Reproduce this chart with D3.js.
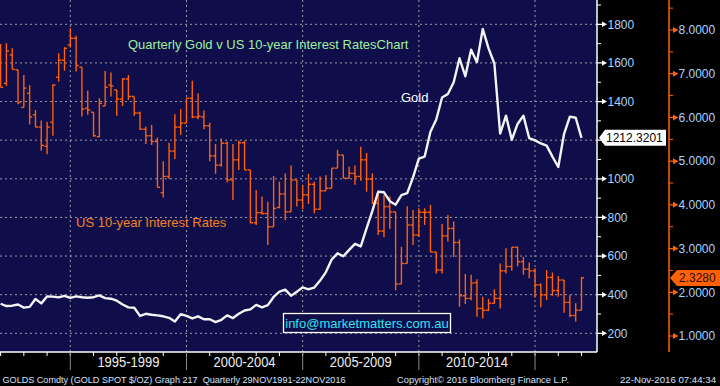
<!DOCTYPE html>
<html>
<head>
<meta charset="utf-8">
<script src="https://cdnjs.cloudflare.com/ajax/libs/d3/7.8.5/d3.min.js"></script>
<style>
body { margin: 0; background: #000; }
svg { display: block; font-family: "Liberation Sans", Arial, sans-serif; }
</style>
</head>
<body>
<svg id="chart" width="720" height="386"></svg>
<script>
// quarterly gold (white line, left axis) v US 10y yield (orange OHLC bars, right axis)
// one point per quarter, Q4 1991 -> Q4 2016, x is just the bar number

// DATA
var quarters = ['1991Q4'];
for (var yr = 1992; yr <= 2016; yr++) {
    for (var q = 1; q <= 4; q++) {
        quarters.push(yr + 'Q' + q);
    }
}

var goldClose = [353,
    341, 343, 349, 333,   337, 378, 355, 391,   390, 386, 394, 383,
    391, 387, 384, 387,   396, 382, 379, 369,   349, 334, 332, 290,
    301, 296, 293, 288,   280, 261, 299, 290,   277, 288, 273, 273,
    258, 270, 293, 279,   301, 318, 324, 347,   334, 346, 388, 416,
    426, 395, 415, 438,   428, 437, 473, 517,   582, 614, 599, 632,
    663, 650, 743, 834,   933, 930, 884, 866,   916, 926, 1007, 1104,
    1115, 1244, 1307, 1421,   1439, 1500, 1624, 1531,   1668, 1604, 1776, 1675,
    1597, 1234, 1327, 1202,   1284, 1327, 1210, 1199,   1183, 1172, 1115, 1061,
    1233, 1322, 1316, 1212.32];

var rateOpen = [7.40,
    6.78, 7.43, 7.09, 6.23,   6.55, 6.06, 5.78, 5.34,   5.89, 6.92, 7.31, 7.66,
    7.81, 7.15, 6.21, 6.12,   5.56, 6.26, 6.74, 6.63,   6.42, 6.88, 6.48, 6.10,
    5.73, 5.58, 5.45, 4.28,   4.65, 5.23, 5.78, 5.87,   6.44, 6.01, 6.01, 5.81,
    5.12, 4.91, 5.41, 4.57,   5.03, 5.42, 4.80, 3.59,   3.82, 3.80, 3.50, 3.94,
    4.25, 3.84, 4.57, 4.11,   4.23, 4.47, 3.90, 4.32,   4.38, 4.84, 5.14, 4.61,
    4.72, 4.65, 5.03, 4.59,   4.04, 3.40, 3.96, 3.84,   2.19, 2.66, 3.54, 3.31,
    3.83, 3.83, 2.92, 2.51,   3.29, 3.46, 3.14, 1.92,   1.86, 2.22, 1.63, 1.59,
    1.75, 1.86, 2.49, 2.59,   3.03, 2.70, 2.53, 2.49,   2.17, 1.94, 2.34, 2.04,
    2.28, 1.77, 1.47, 1.59];

var rateHigh = [7.68,
    7.70, 7.58, 7.09, 6.97,   6.74, 6.17, 5.93, 5.90,   6.76, 7.47, 7.61, 8.04,
    7.87, 7.15, 6.61, 6.12,   6.44, 7.06, 7.03, 6.63,   6.90, 6.97, 6.48, 6.13,
    5.79, 5.83, 5.54, 5.00,   5.42, 6.07, 6.19, 6.44,   6.84, 6.55, 6.16, 5.88,
    5.39, 5.52, 5.45, 5.39,   5.47, 5.47, 4.80, 4.34,   4.19, 4.07, 4.66, 4.53,
    4.72, 4.90, 4.57, 4.46,   4.71, 4.53, 4.65, 4.68,   4.84, 5.26, 5.14, 4.87,
    4.90, 5.33, 5.19, 4.72,   4.27, 4.23, 4.19, 3.84,   3.04, 3.97, 3.88, 3.92,
    3.92, 4.00, 2.92, 3.56,   3.77, 3.62, 3.21, 2.42,   2.40, 2.30, 1.90, 1.85,
    2.07, 2.66, 3.01, 3.03,   3.04, 2.81, 2.68, 2.55,   2.20, 2.51, 2.45, 2.37,
    2.28, 1.94, 1.75, 2.35];

var rateLow = [6.69,
    6.72, 7.10, 6.30, 6.23,   5.84, 5.78, 5.24, 5.16,   5.58, 6.82, 7.07, 7.60,
    7.05, 6.02, 6.06, 5.56,   5.55, 6.26, 6.48, 6.04,   6.26, 6.40, 6.03, 5.71,
    5.39, 5.37, 4.40, 4.17,   4.59, 5.05, 5.60, 5.87,   5.98, 5.96, 5.73, 5.00,
    4.71, 4.87, 4.51, 4.11,   4.80, 4.80, 3.58, 3.54,   3.78, 3.08, 3.50, 3.92,
    3.65, 3.84, 3.96, 3.90,   4.02, 3.81, 3.88, 4.32,   4.38, 4.84, 4.61, 4.61,
    4.46, 4.55, 4.30, 4.02,   3.31, 3.26, 3.45, 2.05,   2.19, 2.66, 3.08, 3.27,
    3.54, 2.92, 2.43, 2.43,   3.16, 2.81, 1.67, 1.73,   1.82, 1.44, 1.40, 1.57,
    1.74, 1.63, 2.43, 2.49,   2.59, 2.40, 2.32, 1.88,   1.66, 1.82, 1.92, 1.90,
    1.53, 1.43, 1.33, 1.59];

var rateClose = [6.69,
    7.52, 7.10, 6.34, 6.67,   6.01, 5.78, 5.36, 5.78,   6.74, 7.31, 7.58, 7.81,
    7.19, 6.19, 6.17, 5.58,   6.32, 6.69, 6.72, 6.42,   6.88, 6.48, 6.10, 5.73,
    5.58, 5.45, 4.40, 4.65,   5.23, 5.78, 5.87, 6.44,   6.01, 6.03, 5.81, 5.12,
    4.91, 5.41, 4.57, 5.03,   5.42, 4.80, 3.59, 3.82,   3.80, 3.50, 3.92, 4.25,
    3.84, 4.57, 4.11, 4.23,   4.47, 3.90, 4.32, 4.38,   4.84, 5.14, 4.61, 4.72,
    4.65, 5.03, 4.59, 4.04,   3.40, 3.96, 3.84, 2.19,   2.66, 3.54, 3.31, 3.83,
    3.83, 2.92, 2.51, 3.29,   3.46, 3.14, 1.92, 1.86,   2.21, 1.63, 1.59, 1.75,
    1.86, 2.49, 2.59, 3.03,   2.70, 2.53, 2.49, 2.17,   1.94, 2.34, 2.04, 2.28,
    1.77, 1.47, 1.59, 2.33];

var periodLabels = ['1995-1999', '2000-2004', '2005-2009', '2010-2014'];
var periodYears = [1995, 2000, 2005, 2010, 2015];
var goldTicks = [200, 400, 600, 800, 1000, 1200, 1400, 1600, 1800];
var goldMinorTicks = [300, 500, 700, 900, 1100, 1300, 1500, 1700, 1900];
var rateTicks = [1, 2, 3, 4, 5, 6, 7, 8];
var rateMinorTicks = [1.5, 2.5, 3.5, 4.5, 5.5, 6.5, 7.5, 8.5];
var lastGold = 1212.3201;
var lastRate = 2.3280;

// COLOURS
var navy = '#0f0d4a';
var orange = '#ff6008';
var axisBlue = '#a9d4ff';
var gridGrey = '#9c9ca8';

// SCALES
var plotW = 597, plotH = 352;
var x = d3.scaleLinear().domain([0, 100]).range([0.6, 581.5]);
var yearIndex = function(year){ return (year - 1992) * 4; }; // bar number where a year starts
var yGold = d3.scaleLinear().domain([200, 1800]).range([333.3, 24.3]);
var yRate = d3.scaleLinear().domain([1, 8]).range([336, 30]);

var svg = d3.select('#chart');

// BACKGROUND
svg.append('rect').attr('width', 720).attr('height', 386).attr('fill', '#000');
svg.append('rect').attr('width', plotW).attr('height', plotH).attr('fill', navy);

// GRID
svg.append('g').selectAll('line').data(goldTicks).enter().append('line')
    .attr('x1', 0).attr('x2', plotW)
    .attr('y1', function(d){ return yGold(d); }).attr('y2', function(d){ return yGold(d); })
    .attr('stroke', gridGrey).attr('stroke-width', 1).attr('stroke-dasharray', '2,3');

svg.append('g').selectAll('line').data(periodYears).enter().append('line')
    .attr('x1', function(d){ return x(yearIndex(d)); }).attr('x2', function(d){ return x(yearIndex(d)); })
    .attr('y1', 0).attr('y2', plotH)
    .attr('stroke', gridGrey).attr('stroke-width', 1).attr('stroke-dasharray', '2,3');

// RATE BARS (high-low, open tick left, close tick right)
var bars = svg.append('g').attr('stroke', orange).attr('stroke-width', 1.4)
    .selectAll('g').data(d3.range(quarters.length)).enter().append('g');
bars.append('line')
    .attr('x1', function(i){ return x(i); }).attr('x2', function(i){ return x(i); })
    .attr('y1', function(i){ return yRate(rateHigh[i]); })
    .attr('y2', function(i){ return yRate(rateLow[i]); });
bars.append('line')
    .attr('x1', function(i){ return x(i) - 2.6; }).attr('x2', function(i){ return x(i); })
    .attr('y1', function(i){ return yRate(rateOpen[i]); })
    .attr('y2', function(i){ return yRate(rateOpen[i]); });
bars.append('line')
    .attr('x1', function(i){ return x(i); }).attr('x2', function(i){ return x(i) + 2.6; })
    .attr('y1', function(i){ return yRate(rateClose[i]); })
    .attr('y2', function(i){ return yRate(rateClose[i]); });

// GOLD LINE
var goldLine = d3.line()
    .x(function(d, i){ return x(i); })
    .y(function(d){ return yGold(d); });
svg.append('path').datum(goldClose)
    .attr('d', goldLine)
    .attr('fill', 'none').attr('stroke', '#f4f4f4').attr('stroke-width', 2.4)
    .attr('stroke-linejoin', 'round');

// TEXT IN THE PLOT
svg.append('text').attr('x', 128).attr('y', 49).attr('font-size', 13).attr('fill', '#9cf29c')
    .text('Quarterly Gold v US 10-year Interest RatesChart');
svg.append('text').attr('x', 401).attr('y', 102).attr('font-size', 13).attr('fill', '#ffffff')
    .text('Gold');
svg.append('text').attr('x', 76).attr('y', 227).attr('font-size', 13).attr('fill', '#f5821f')
    .text('US 10-year Interest Rates');

svg.append('rect').attr('x', 283.5).attr('y', 313.5).attr('width', 167).attr('height', 19)
    .attr('fill', navy).attr('stroke', '#ffffff').attr('stroke-width', 1.3);
svg.append('text').attr('x', 367).attr('y', 328).attr('text-anchor', 'middle')
    .attr('font-size', 13).attr('fill', '#2fe3f0')
    .text('info@marketmatters.com.au');

// X AXIS
svg.append('line').attr('x1', 0).attr('x2', plotW).attr('y1', plotH).attr('y2', plotH)
    .attr('stroke', '#ffffff').attr('stroke-width', 1.5);
var yearMarks = d3.range(1992, 2018);
svg.append('g').selectAll('line').data(yearMarks).enter().append('line')
    .attr('x1', function(d){ return x(yearIndex(d)); }).attr('x2', function(d){ return x(yearIndex(d)); })
    .attr('y1', plotH).attr('y2', plotH + 4)
    .attr('stroke', '#ffffff').attr('stroke-width', 1);
svg.append('g').selectAll('line').data(periodYears).enter().append('line')
    .attr('x1', function(d){ return x(yearIndex(d)); }).attr('x2', function(d){ return x(yearIndex(d)); })
    .attr('y1', plotH).attr('y2', plotH + 18)
    .attr('stroke', '#8a8a8a').attr('stroke-width', 1);
svg.append('g').selectAll('text').data(periodLabels).enter().append('text')
    .attr('x', function(d, i){ return (x(yearIndex(periodYears[i])) + x(yearIndex(periodYears[i + 1]))) / 2; })
    .attr('y', 366.5).attr('text-anchor', 'middle')
    .attr('font-size', 14).attr('fill', '#ececec')
    .attr('textLength', 62).attr('lengthAdjust', 'spacingAndGlyphs')
    .text(function(d){ return d; });

// GOLD AXIS (left of the black area)
svg.append('line').attr('x1', plotW).attr('x2', plotW).attr('y1', 0).attr('y2', plotH)
    .attr('stroke', '#ffffff').attr('stroke-width', 1.5);
svg.append('g').selectAll('line').data(goldMinorTicks).enter().append('line')
    .attr('x1', plotW).attr('x2', plotW + 4)
    .attr('y1', function(d){ return yGold(d); }).attr('y2', function(d){ return yGold(d); })
    .attr('stroke', '#ffffff').attr('stroke-width', 1);
svg.append('g').selectAll('path').data(goldTicks).enter().append('path')
    .attr('d', function(d){
        var yy = yGold(d);
        return 'M' + plotW + ',' + (yy - 0.6) + 'H602V' + (yy - 2.8) + 'L607,' + yy + 'L602,' + (yy + 2.8) + 'V' + (yy + 0.6) + 'H' + plotW + 'Z';
    })
    .attr('fill', '#ffffff');
// the last-price tag sits on top of the 1200 label, so that one is left out
var goldLabelTicks = goldTicks.filter(function(d){ return Math.abs(yGold(d) - yGold(lastGold)) > 12; });
svg.append('g').selectAll('text').data(goldLabelTicks).enter().append('text')
    .attr('x', 607.5).attr('y', function(d){ return yGold(d); }).attr('dy', '0.36em')
    .attr('font-size', 12).attr('fill', axisBlue)
    .text(function(d){ return d; });

// RATE AXIS
var rateX = 669;
svg.append('line').attr('x1', rateX).attr('x2', rateX).attr('y1', 0).attr('y2', plotH)
    .attr('stroke', orange).attr('stroke-width', 1.5);
svg.append('g').selectAll('line').data(rateMinorTicks).enter().append('line')
    .attr('x1', rateX).attr('x2', rateX + 4)
    .attr('y1', function(d){ return yRate(d); }).attr('y2', function(d){ return yRate(d); })
    .attr('stroke', orange).attr('stroke-width', 1);
svg.append('g').selectAll('path').data(rateTicks).enter().append('path')
    .attr('d', function(d){
        var yy = yRate(d);
        return 'M' + rateX + ',' + (yy - 0.6) + 'H673V' + (yy - 3) + 'L678.5,' + yy + 'L673,' + (yy + 3) + 'V' + (yy + 0.6) + 'H' + rateX + 'Z';
    })
    .attr('fill', orange);
svg.append('g').selectAll('text').data(rateTicks).enter().append('text')
    .attr('x', 678.5).attr('y', function(d){ return yRate(d); }).attr('dy', '0.36em')
    .attr('font-size', 12).attr('fill', axisBlue)
    .text(function(d){ return d3.format('.4f')(d); });

// LAST VALUE TAGS
var gy = yGold(lastGold);
svg.append('path')
    .attr('d', 'M599,' + gy + 'L605,' + (gy - 8) + 'H666V' + (gy + 8) + 'H605Z')
    .attr('fill', '#ffffff');
svg.append('text').attr('x', 606).attr('y', gy).attr('dy', '0.36em')
    .attr('font-size', 12).attr('fill', '#000')
    .text(d3.format('.4f')(lastGold));

var ry = yRate(lastRate);
svg.append('path')
    .attr('d', 'M670,' + ry + 'L677,' + (ry - 8) + 'H720V' + (ry + 8) + 'H677Z')
    .attr('fill', orange);
svg.append('text').attr('x', 679).attr('y', ry).attr('dy', '0.36em')
    .attr('font-size', 12).attr('fill', '#2a0d00')
    .text(d3.format('.4f')(lastRate));

// FOOTER
var footer = [
    {t: 'GOLDS Comdty (GOLD SPOT $/OZ) Graph 217  Quarterly 29NOV1991-22NOV2016', x: 2.5, w: 343},
    {t: 'Copyright\u00a9 2016 Bloomberg Finance L.P.', x: 397, w: 172},
    {t: '22-Nov-2016 07:44:34', x: 620, w: 96}
];
svg.append('g').selectAll('text').data(footer).enter().append('text')
    .attr('x', function(d){ return d.x; }).attr('y', 382.5)
    .attr('font-size', 9.4).attr('fill', '#d4e2ff')
    .attr('textLength', function(d){ return d.w; }).attr('lengthAdjust', 'spacingAndGlyphs')
    .style('white-space', 'pre')
    .text(function(d){ return d.t; });
</script>
</body>
</html>
